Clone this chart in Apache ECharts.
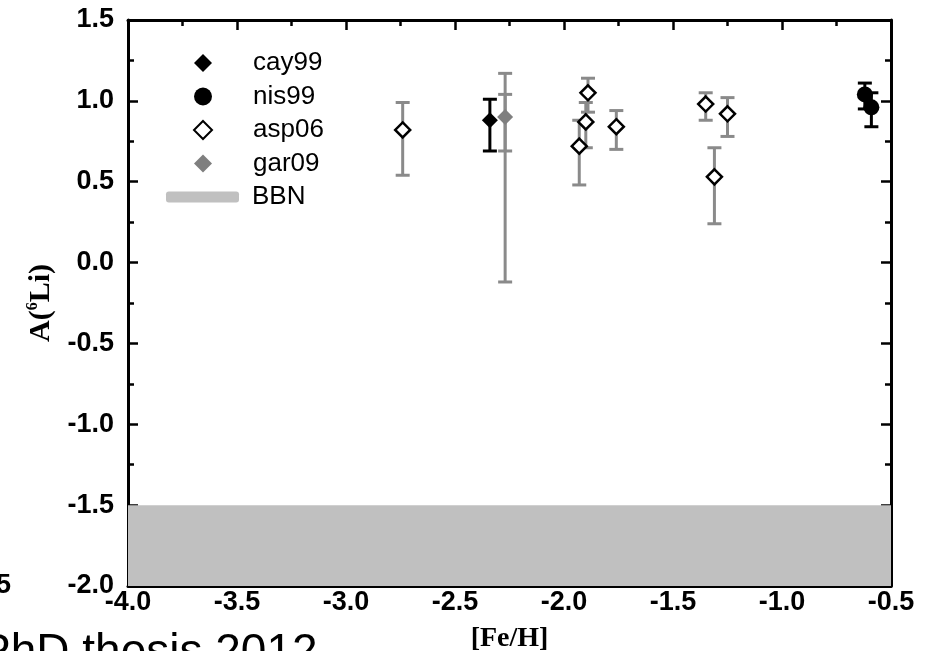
<!DOCTYPE html>
<html>
<head>
<meta charset="utf-8">
<script src="https://cdn.jsdelivr.net/npm/echarts@6/dist/echarts.min.js"></script>
<style>
html,body{margin:0;padding:0;background:#fff;}
#chart{width:926px;height:651px;}
</style>
</head>
<body>
<div id="chart"></div>
<script>
// ---- data ----
const xTicks = [-4.0, -3.5, -3.0, -2.5, -2.0, -1.5, -1.0, -0.5];
const yTicks = [-2.0, -1.5, -1.0, -0.5, 0.0, 0.5, 1.0, 1.5];

const cay99X  = [-2.34];
const cay99Y  = [0.88];
const cay99Lo = [0.69];
const cay99Hi = [1.01];

const nis99X  = [-0.62, -0.59];
const nis99Y  = [1.04, 0.96];
const nis99Lo = [0.95, 0.84];
const nis99Hi = [1.11, 1.05];

const asp06X  = [-2.74, -1.93, -1.90, -1.89, -1.76, -1.35, -1.31, -1.25];
const asp06Y  = [0.82, 0.72, 0.87, 1.05, 0.84, 0.98, 0.53, 0.92];
const asp06Lo = [0.54, 0.48, 0.71, 0.93, 0.70, 0.88, 0.24, 0.78];
const asp06Hi = [0.99, 0.88, 0.99, 1.14, 0.94, 1.05, 0.71, 1.02];

const gar09X   = [-2.27];
const gar09Y   = [0.90];
const gar09Lo  = [-0.12];
const gar09Hi  = [1.17];
const gar09Lo2 = [0.69];
const gar09Hi2 = [1.04];

const bbnX = [-4.0, -0.5];
const bbnY = [-1.5, -1.5];

// ---- helpers ----
const pts = (xs, ys) => xs.map((x, i) => [x, ys[i]]);
const bars = (xs, lo, hi) => xs.map((x, i) => [x, lo[i], hi[i]]);

function errSeries(name, data, color) {
  return {
    name: name,
    type: 'custom',
    z: 3,
    encode: { x: 0, y: [1, 2] },
    data: data,
    renderItem: function (params, api) {
      const x = api.value(0), lo = api.value(1), hi = api.value(2);
      const a = api.coord([x, lo]), b = api.coord([x, hi]);
      const cap = 7;
      const st = { stroke: color, lineWidth: 3, fill: null };
      return {
        type: 'group',
        children: [
          { type: 'line', shape: { x1: a[0], y1: a[1], x2: b[0], y2: b[1] }, style: st },
          { type: 'line', shape: { x1: a[0] - cap, y1: a[1], x2: a[0] + cap, y2: a[1] }, style: st },
          { type: 'line', shape: { x1: b[0] - cap, y1: b[1], x2: b[0] + cap, y2: b[1] }, style: st }
        ]
      };
    }
  };
}

const tickLabelStyle = {
  color: '#000', fontFamily: 'Liberation Sans, Arial, sans-serif',
  fontWeight: 'bold', fontSize: 27,
  formatter: v => v.toFixed(1)
};

function axisCommon(extra) {
  return Object.assign({
    type: 'value',
    splitLine: { show: false },
    axisLine: { show: true, onZero: false, lineStyle: { color: '#000', width: 3 } },
    axisTick: { show: true, inside: true, length: 10, lineStyle: { color: '#000', width: 2.5 } },
    minorTick: { show: true, splitNumber: 2, length: 6, lineStyle: { color: '#000', width: 2.5 } }
  }, extra);
}

const chart = echarts.init(document.getElementById('chart'), null, { renderer: 'canvas' });
chart.setOption({
  backgroundColor: '#fff',
  animation: false,
  grid: { left: 128, right: 35, top: 20, bottom: 65, containLabel: false, outerBoundsMode: 'none' },
  xAxis: [
    axisCommon({
      min: xTicks[0], max: xTicks[xTicks.length - 1], interval: 0.5, position: 'bottom',
      axisLabel: Object.assign({ margin: 3 }, tickLabelStyle),
      name: '[Fe/H]', nameLocation: 'middle', nameGap: 39,
      nameTextStyle: { color: '#000', fontFamily: 'Liberation Serif, Times New Roman, serif', fontWeight: 'bold', fontSize: 28 }
    }),
    axisCommon({
      min: xTicks[0], max: xTicks[xTicks.length - 1], interval: 0.5, position: 'top',
      axisLabel: { show: false }
    })
  ],
  yAxis: [
    axisCommon({
      min: yTicks[0], max: yTicks[yTicks.length - 1], interval: 0.5, position: 'left',
      axisLabel: Object.assign({ margin: 14 }, tickLabelStyle),
      name: '{a|A(}{s|6}{a|Li)}', nameLocation: 'middle', nameGap: 71, nameRotate: 90,
      nameTextStyle: {
        color: '#000',
        rich: {
          a: { fontFamily: 'Liberation Serif, Times New Roman, serif', fontWeight: 'bold', fontSize: 30, lineHeight: 32, color: '#000' },
          s: { fontFamily: 'Liberation Serif, Times New Roman, serif', fontWeight: 'bold', fontSize: 16, lineHeight: 32, verticalAlign: 'top', padding: [0, 0, 12, 0], color: '#000' }
        }
      }
    }),
    axisCommon({
      min: yTicks[0], max: yTicks[yTicks.length - 1], interval: 0.5, position: 'right',
      axisLabel: { show: false }
    })
  ],
  legend: [
    {
      data: ['cay99', 'nis99', 'asp06', 'gar09'],
      orient: 'vertical', left: 193, top: 50, padding: 0,
      itemWidth: 18, itemHeight: 18, itemGap: 7.5,
      selectedMode: false,
      textStyle: { fontFamily: 'Liberation Sans, Arial, sans-serif', fontSize: 26, lineHeight: 26, color: '#000', padding: [0, 0, 0, 36] }
    },
    {
      data: [{ name: 'BBN', icon: 'roundRect', itemStyle: { color: '#c0c0c0' } }],
      orient: 'vertical', left: 166, top: 184, padding: 0,
      itemWidth: 73, itemHeight: 11,
      selectedMode: false,
      textStyle: { fontFamily: 'Liberation Sans, Arial, sans-serif', fontSize: 26, lineHeight: 26, color: '#000', padding: [0, 0, 0, 8] }
    }
  ],
  graphic: [
    { type: 'text', left: -20, top: 630, z: 100,
      style: { text: 'PhD thesis 2012', fill: '#000', font: '46px "Liberation Sans", Arial, sans-serif' } },
    { type: 'text', right: 915, top: 572, z: 100,
      style: { text: '5', fill: '#000', font: 'bold 27px "Liberation Sans", Arial, sans-serif' } }
  ],
  series: [
    {
      name: 'BBN', type: 'line', data: pts(bbnX, bbnY), showSymbol: false, z: 1,
      itemStyle: { color: '#c0c0c0' },
      lineStyle: { width: 0, color: '#c0c0c0' },
      areaStyle: { color: '#c0c0c0', opacity: 1, origin: 'start' }
    },
    errSeries('cay99-err', bars(cay99X, cay99Lo, cay99Hi), '#000'),
    errSeries('nis99-err', bars(nis99X, nis99Lo, nis99Hi), '#000'),
    errSeries('asp06-err', bars(asp06X, asp06Lo, asp06Hi), '#8a8a8a'),
    errSeries('gar09-err', bars(gar09X, gar09Lo, gar09Hi), '#8a8a8a'),
    errSeries('gar09-err2', bars(gar09X, gar09Lo2, gar09Hi2), '#8a8a8a'),
    {
      name: 'cay99', type: 'scatter', z: 5, data: pts(cay99X, cay99Y),
      symbol: 'diamond', symbolSize: 16, itemStyle: { color: '#000', opacity: 1 }
    },
    {
      name: 'nis99', type: 'scatter', z: 5, data: pts(nis99X, nis99Y),
      symbol: 'circle', symbolSize: 16, itemStyle: { color: '#000', opacity: 1 }
    },
    {
      name: 'asp06', type: 'scatter', z: 5, data: pts(asp06X, asp06Y),
      symbol: 'diamond', symbolSize: 15, itemStyle: { color: '#fff', borderColor: '#000', borderWidth: 2.5, opacity: 1 }
    },
    {
      name: 'gar09', type: 'scatter', z: 6, data: pts(gar09X, gar09Y),
      symbol: 'diamond', symbolSize: 16, itemStyle: { color: '#7f7f7f', opacity: 1 }
    }
  ]
});
</script>
</body>
</html>
